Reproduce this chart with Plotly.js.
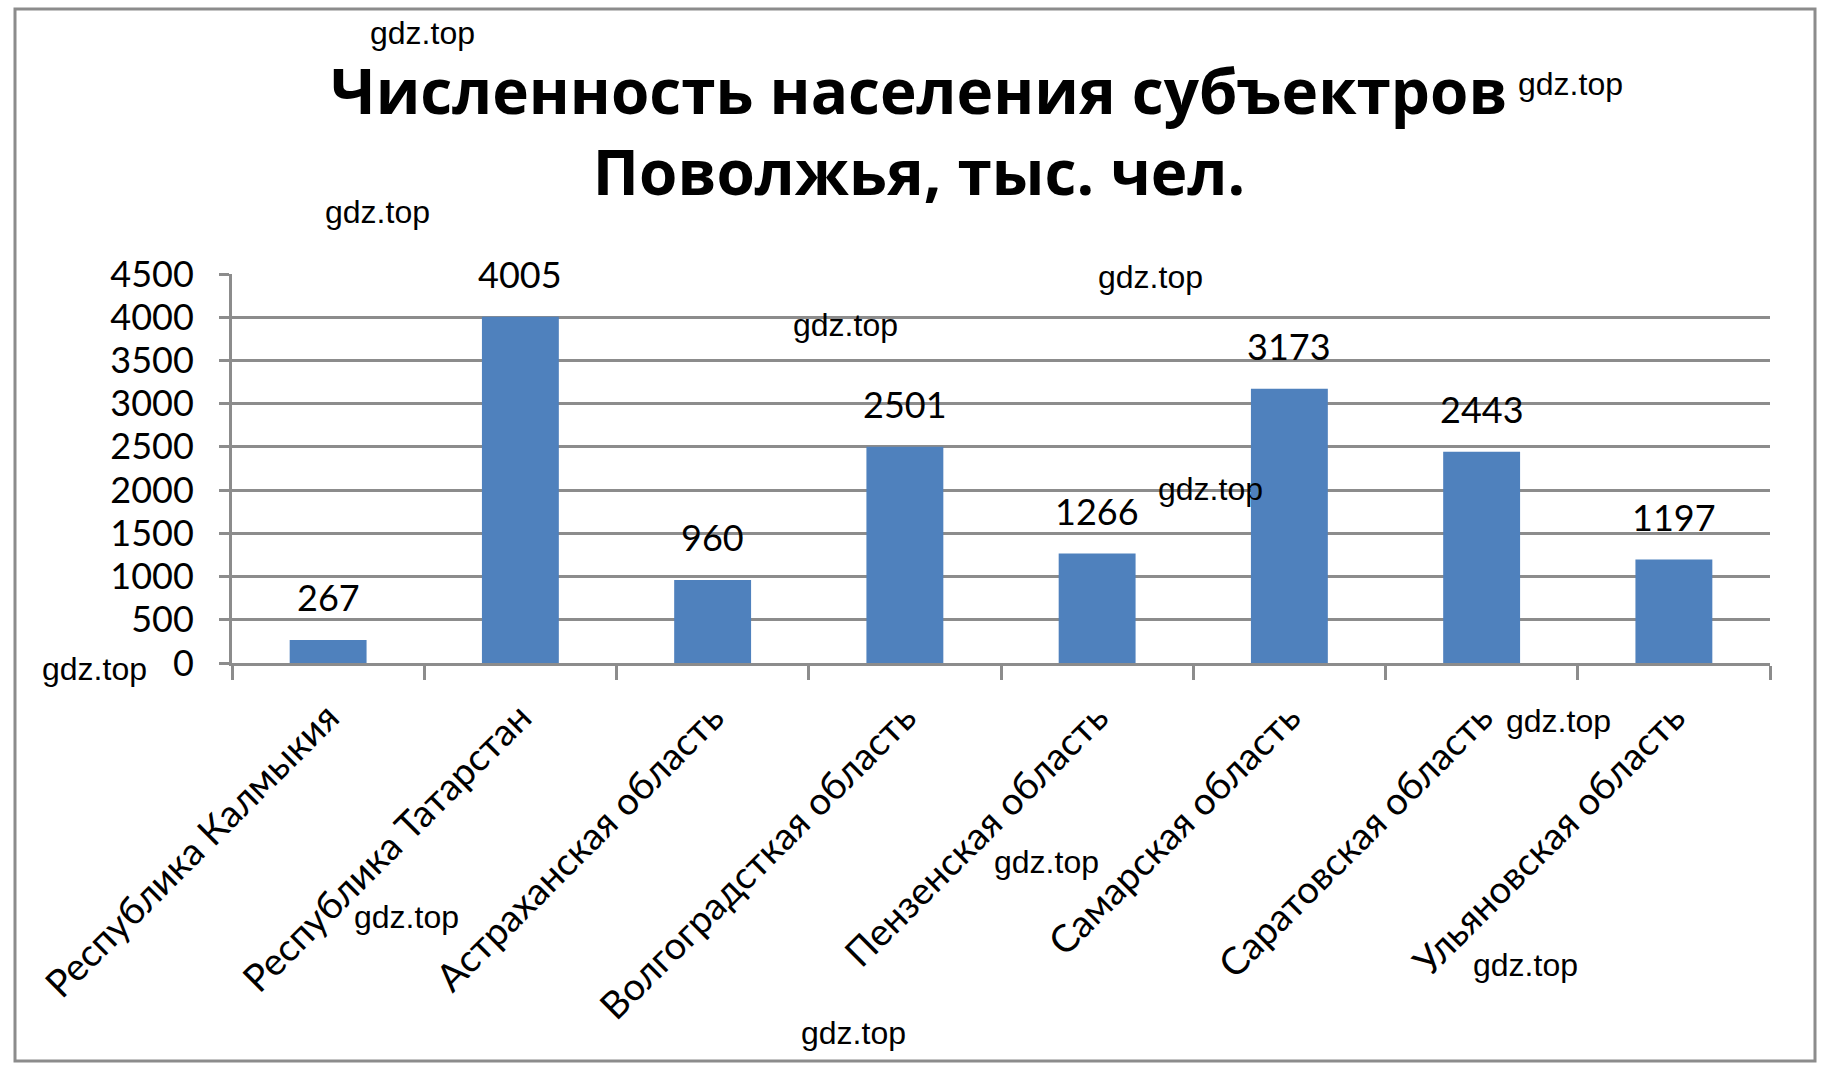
<!DOCTYPE html>
<html>
<head>
<meta charset="utf-8">
<script src="https://cdn.plot.ly/plotly-3.0.1.min.js"></script>
<style>html,body{margin:0;padding:0;background:#fff;}#chart{width:1838px;height:1078px;}</style>
</head>
<body>
<div id="chart"></div>
<script>
const categories = ['Республика Калмыкия','Республика Татарстан','Астраханская область','Волгоградсткая область','Пензенская область','Самарская область','Саратовская область','Ульяновская область'];
const population = [267, 4005, 960, 2501, 1266, 3173, 2443, 1197];
const yTickValues = [0, 500, 1000, 1500, 2000, 2500, 3000, 3500, 4000, 4500];
const titleText = '<b>Численность населения субъектров<br>Поволжья, тыс. чел.</b>';
const watermarkText = 'gdz.top';
// watermark centers in page pixels
const watermarkPx = [[422,33],[1570,84],[377,212],[1150,277],[845,325],[1210,489],[94,669],[1558,721],[1046,862],[406,917],[1525,965],[853,1033]];

const W = 1838, H = 1078;
const L = 232, R = 1770, T = 274, B = 663;
const px2x = p => (p - L) / (R - L);
const py2y = p => (B - p) / (B - T);
const gray = '#8c8c8c';
const lab = 'Lato, "Liberation Sans", sans-serif';

const annotations = [];
categories.forEach((c, i) => {
  annotations.push({x: c, y: population[i], xref: 'x', yref: 'y', text: String(population[i]),
    showarrow: false, yanchor: 'bottom', yshift: 19, font: {family: lab, size: 36, color: '#000'}});
});
watermarkPx.forEach(([px, py]) => {
  annotations.push({x: px2x(px), y: py2y(py), xref: 'paper', yref: 'paper', text: watermarkText,
    showarrow: false, xanchor: 'center', yanchor: 'middle',
    font: {family: '"Liberation Sans", Arial, sans-serif', size: 32, color: '#000'}});
});

const trace = {type: 'bar', x: categories, y: population, marker: {color: '#4f81bd'}, hoverinfo: 'x+y'};

const layout = {
  width: W, height: H,
  margin: {l: L, r: W - R, t: T, b: H - B, pad: 0},
  paper_bgcolor: '#fff', plot_bgcolor: '#fff',
  showlegend: false,
  bargap: 0.6,
  title: {text: titleText, font: {family: '"Open Sans", "Noto Sans", sans-serif', size: 62, color: '#000'},
    x: 0.5, xref: 'container', xanchor: 'center', y: 0.894, yref: 'container', yanchor: 'top'},
  xaxis: {type: 'category', showline: true, linecolor: gray, linewidth: 3, showgrid: false,
    ticks: 'outside', tickson: 'boundaries', ticklen: 14, tickcolor: gray, tickwidth: 3,
    tickangle: -45, ticklabelstandoff: 14, tickfont: {family: lab, size: 38, color: '#000'}},
  yaxis: {range: [0, 4500], tickvals: yTickValues, showline: true, linecolor: gray, linewidth: 3,
    showgrid: true, gridcolor: gray, gridwidth: 3, zeroline: false,
    ticks: 'outside', ticklen: 10, tickcolor: gray, tickwidth: 3, ticklabelstandoff: 18,
    tickfont: {family: lab, size: 36, color: '#000'}},
  annotations: annotations,
  shapes: [{type: 'rect', xref: 'paper', yref: 'paper', x0: px2x(15), x1: px2x(1815), y0: py2y(1061), y1: py2y(9),
    line: {color: gray, width: 3}, fillcolor: 'rgba(0,0,0,0)', layer: 'below'}]
};

Plotly.newPlot('chart', [trace], layout, {displayModeBar: false, staticPlot: true});
</script>
</body>
</html>
